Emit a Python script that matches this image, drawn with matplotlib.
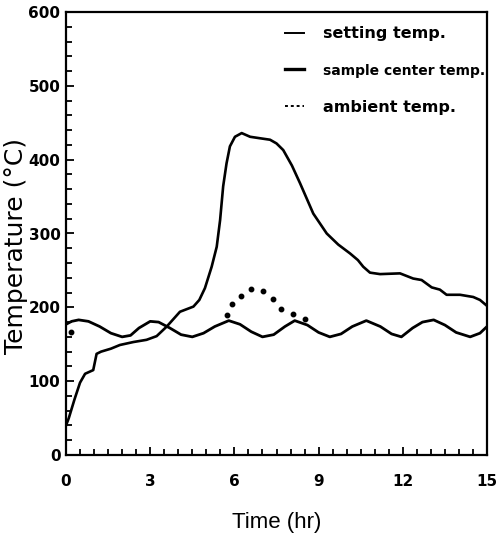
import matplotlib

matplotlib.use("Agg")
import matplotlib.pyplot as plt
from matplotlib.lines import Line2D
from matplotlib.ticker import MultipleLocator

# furnace run: temperatures vs time (hr, degC)
setting_t = [0.0, 0.2, 0.45, 0.8, 1.2, 1.6, 2.0, 2.3, 2.6, 3.0, 3.3, 3.7, 4.1, 4.5,
             4.9, 5.3, 5.8, 6.2, 6.6, 7.0, 7.4, 7.8, 8.15, 8.6, 9.0, 9.4, 9.8, 10.2,
             10.7, 11.2, 11.6, 11.95, 12.35, 12.7, 13.1, 13.5, 13.9, 14.4, 14.75, 15.0]
setting_temp = [177, 181, 183, 181, 174, 165, 160, 162, 172, 181, 180, 172, 163, 160,
                165, 174, 182, 177, 167, 160, 163, 174, 182, 176, 166, 160, 164, 174,
                182, 174, 164, 160, 172, 180, 183, 176, 166, 160, 165, 174]

center_t = [0.0, 0.1, 0.3, 0.5, 0.68, 0.97, 1.09, 1.25, 1.6, 1.92, 2.4, 2.87, 3.23,
            3.59, 4.06, 4.54, 4.75, 4.95, 5.19, 5.37, 5.49, 5.6, 5.72, 5.84, 6.02,
            6.26, 6.56, 6.91, 7.27, 7.5, 7.74, 8.05, 8.34, 8.81, 9.29, 9.7, 10.12,
            10.4, 10.59, 10.83, 11.19, 11.9, 12.37, 12.67, 13.03, 13.32, 13.56,
            14.04, 14.51, 14.75, 15.0]
center_temp = [40, 50, 75, 98, 110, 115, 137, 140, 144, 149, 153, 156, 161,
               174, 194, 201, 210, 226, 255, 282, 318, 364, 395, 418, 431,
               436, 431, 429, 427, 422, 413, 392, 368, 327, 300, 285, 273,
               264, 255, 247, 245, 246, 239, 237, 227, 224, 217,
               217, 214, 210, 202]

ambient_t = [0.17, 5.72, 5.92, 6.23, 6.59, 7.03, 7.39, 7.66, 8.1, 8.53]
ambient_temp = [167, 189, 204, 216, 225, 222, 211, 198, 191, 184]

labels = ["setting temp.", "sample center temp.", "ambient temp."]

fig = plt.figure(figsize=(4.96, 5.37), dpi=100)
ax = fig.add_axes([66 / 496, 1 - 455 / 537, 421 / 496, 443 / 537])

ax.plot(setting_t, setting_temp, color="black", lw=2.0)
ax.plot(center_t, center_temp, color="black", lw=1.9)
ax.plot(ambient_t, ambient_temp, color="black", ls="none", marker="o", ms=3.2)

ax.set_xlim(0, 15)
ax.set_ylim(0, 600)
ax.xaxis.set_major_locator(MultipleLocator(3))
ax.xaxis.set_minor_locator(MultipleLocator(0.5))
ax.yaxis.set_major_locator(MultipleLocator(100))
ax.yaxis.set_minor_locator(MultipleLocator(20))
ax.tick_params(which="both", direction="in", top=False, right=False, width=1.3)
ax.tick_params(which="major", length=6)
ax.tick_params(which="minor", length=4)
ax.tick_params(axis="x", which="major", pad=14)
ax.tick_params(axis="y", which="major", pad=4)
for lab in ax.get_xticklabels() + ax.get_yticklabels():
    lab.set_fontweight("bold")
    lab.set_fontsize(11)
for sp in ax.spines.values():
    sp.set_linewidth(1.6)

ax.set_xlabel("Time (hr)", fontsize=16, family="Liberation Sans", labelpad=16)
ax.set_ylabel("Temperature (\u00b0C)", fontsize=18)
ax.yaxis.set_label_coords(-0.09, 0.472)

handles = [
    Line2D([], [], color="black", lw=1.4),
    Line2D([], [], color="black", lw=2.4),
    Line2D([], [], color="black", lw=1.4, ls=(0, (1.5, 1.5))),
]
leg = ax.legend(handles, labels, loc="upper left", bbox_to_anchor=(0.52, 0.968),
                frameon=False, borderpad=0, borderaxespad=0, handlelength=1.2,
                handletextpad=1.2, labelspacing=1.4,
                prop={"weight": "bold", "size": 11.5})
leg.get_texts()[1].set_fontsize(10)

fig.savefig("out.png", dpi=100)
